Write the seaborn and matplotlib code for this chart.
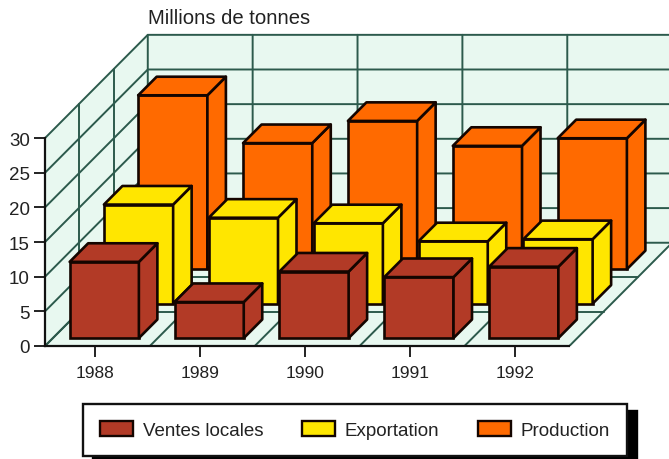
import matplotlib
matplotlib.use('Agg')
import matplotlib.pyplot as plt
from matplotlib.patches import Patch, Polygon
import pandas as pd
import seaborn as sns

# Values (millions de tonnes)
years = ['1988', '1989', '1990', '1991', '1992']
ventes = [11.0, 5.2, 9.6, 8.8, 10.3]
exportation = [14.3, 12.4, 11.6, 9.0, 9.3]
production = [25.1, 18.2, 21.4, 17.8, 18.9]

y_ticks = [0, 5, 10, 15, 20, 25, 30]
series_names = ['Ventes locales', 'Exportation', 'Production']
series_colors = ['#b23a26', '#ffe600', '#ff6a00']

# Fake 3D: oblique projection, one unit of depth moves this far in data units
DEPTH_X = 0.98
DEPTH_Y = 14.9
BAR_DEPTH = 0.18
BAR_WIDTH = 0.66
WALL = '#e8f8f0'
GRID = '#2c5a4c'
EDGE = '#140500'

sns.set_style('white')
plt.rcParams['font.family'] = ['Liberation Sans', 'DejaVu Sans']
plt.rcParams['text.color'] = '#222222'


def project(x, depth, value):
    return x + depth * DEPTH_X, value + depth * DEPTH_Y


fig = plt.figure(figsize=(6.69, 4.6), dpi=100)
ax = fig.add_axes([45 / 669, 113 / 460, 624 / 669, 347 / 460])
ax.patch.set_alpha(0)

n = len(years)
top = y_ticks[-1]
left, right = -0.5, n - 0.5
far_right = 5.45

# Walls and floor
wall_shapes = [
    [project(left, 0, 0), project(left, 1, 0), project(left, 1, top), project(left, 0, top)],
    [project(left, 1, 0), (far_right, DEPTH_Y), (far_right, DEPTH_Y + top), project(left, 1, top)],
    [project(left, 0, 0), project(right, 0, 0), project(right, 1, 0), project(left, 1, 0)],
]
for shape in wall_shapes:
    ax.add_patch(Polygon(shape, closed=True, fc=WALL, ec='none', zorder=1))

for v in y_ticks:
    xs, ys = zip(project(left, 0, v), project(left, 1, v), (far_right, v + DEPTH_Y))
    ax.plot(xs, ys, color=GRID, lw=1.4, zorder=2)
for d in [1 / 3, 2 / 3]:
    xs, ys = zip(project(left, d, 0), project(left, d, top))
    ax.plot(xs, ys, color=GRID, lw=1.4, zorder=2)
    xs, ys = zip(project(left, d, 0), project(right, d, 0))
    ax.plot(xs, ys, color=GRID, lw=1.4, zorder=2)
for i in range(n + 1):
    xs, ys = zip(project(left + i, 0, 0), project(left + i, 1, 0), project(left + i, 1, top))
    ax.plot(xs, ys, color=GRID, lw=1.4, zorder=2)

# Bars, back row first so that the front rows cover it
df = pd.DataFrame({
    'pos': list(range(n)) * 3,
    'serie': [s for s in series_names for _ in range(n)],
    'valeur': ventes + exportation + production,
})

for row in [2, 1, 0]:
    name = series_names[row]
    color = series_colors[row]
    depth = (row + 0.5) / 3 - BAR_DEPTH / 2
    sub = df[df['serie'] == name].copy()
    sub['x'] = sub['pos'] + depth * DEPTH_X - 0.01

    before = len(ax.patches)
    sns.barplot(data=sub, x='x', y='valeur', native_scale=True, width=BAR_WIDTH,
                color=color, saturation=1, errorbar=None, ax=ax,
                bottom=depth * DEPTH_Y, edgecolor=EDGE, linewidth=1.9,
                zorder=5 + 2 - row)

    for bar in ax.patches[before:]:
        x0, x1 = bar.get_x(), bar.get_x() + bar.get_width()
        y0, y1 = bar.get_y(), bar.get_y() + bar.get_height()
        dx, dy = BAR_DEPTH * DEPTH_X, BAR_DEPTH * DEPTH_Y
        side = [(x1, y0), (x1 + dx, y0 + dy), (x1 + dx, y1 + dy), (x1, y1)]
        lid = [(x0, y1), (x1, y1), (x1 + dx, y1 + dy), (x0 + dx, y1 + dy)]
        for face in (side, lid):
            ax.add_patch(Polygon(face, closed=True, fc=color, ec=EDGE, lw=1.9,
                                 joinstyle='round', zorder=5 + 2 - row))

ax.set_xlim(left, far_right)
ax.set_ylim(0, 347 / 6.93)
ax.set_xticks([i - 0.02 for i in range(n)], years)
ax.set_yticks(y_ticks)
ax.set_xlabel('')
ax.set_ylabel('')
ax.tick_params(axis='both', which='both', left=True, bottom=True, length=8, width=1.3,
               color='#111111', labelcolor='#222222')
ax.tick_params(axis='x', pad=6, labelsize=12.5)
ax.tick_params(axis='y', pad=3, labelsize=13.5)

sns.despine(ax=ax)
ax.spines['left'].set_bounds(0, top)
ax.spines['bottom'].set_bounds(left, right)
for spine in ('left', 'bottom'):
    ax.spines[spine].set_color('#111111')
    ax.spines[spine].set_linewidth(1.6)
    ax.spines[spine].set_zorder(3)

fig.text(148 / 669, 1 - 19 / 460, 'Millions de tonnes', fontsize=14.6, va='center', ha='left')

handles = [Patch(fc=c, ec=EDGE, lw=1.7) for c in series_colors]
leg = fig.legend(handles, series_names, ncol=3, loc='upper left',
                 bbox_to_anchor=(83 / 669, 1 - 405 / 460), borderaxespad=0,
                 fontsize=13.5, frameon=True, fancybox=False, framealpha=1,
                 edgecolor='#111111', facecolor='white', borderpad=0.9,
                 handlelength=1.76, handleheight=0.85, handletextpad=0.53,
                 columnspacing=2.05,
                 shadow={'ox': 7, 'oy': -5, 'color': 'black', 'alpha': 1})
leg.get_frame().set_linewidth(1.7)

fig.savefig('out.png', dpi=100)
